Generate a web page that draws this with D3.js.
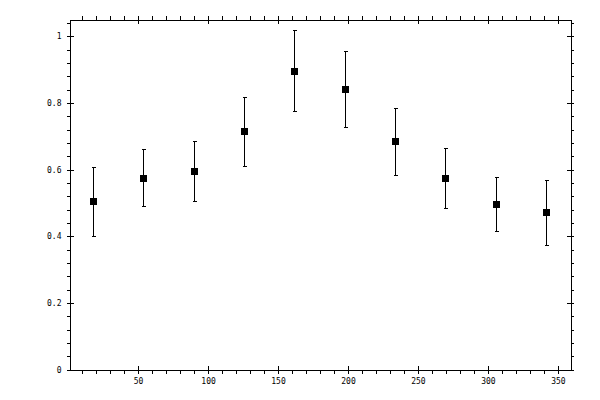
<!DOCTYPE html>
<html>
<head>
<meta charset="utf-8">
<script src="https://cdn.jsdelivr.net/npm/d3@7"></script>
<style>
  body { margin: 0; background: #fff; }
  svg { display: block; }
  text { font-family: "DejaVu Sans Mono", monospace; font-size: 8px; fill: #000; }
</style>
</head>
<body>
<div class="graph"></div>
<script>
// values
const xVals = [18, 54, 90, 126, 162, 198, 234, 270, 306, 342];
const yVals = [0.503, 0.573, 0.594, 0.714, 0.894, 0.840, 0.684, 0.573, 0.495, 0.471];
const yLow  = [0.398, 0.489, 0.504, 0.610, 0.774, 0.726, 0.582, 0.483, 0.414, 0.371];
const yHigh = [0.606, 0.660, 0.684, 0.816, 1.017, 0.954, 0.783, 0.663, 0.576, 0.567];
const xTicks = [50, 100, 150, 200, 250, 300, 350];
const yTicks = [0, 0.2, 0.4, 0.6, 0.8, 1];

const width = 600, height = 400;
const mLeft = 69, mRight = 570, mTop = 19, mBottom = 369;

const svg = d3.select(".graph").append("svg")
    .attr("width", width).attr("height", height);

const x = d3.scaleLinear().domain([1, 359]).range([mLeft, mRight]);
const y = d3.scaleLinear().domain([0, 1.05]).range([mBottom, mTop]);

const xMinor = d3.range(10, 359, 10).filter(v => v % 50 != 0);
const yMinor = d3.range(0.04, 1.05, 0.04).filter(v => Math.abs(v / 0.2 - Math.round(v / 0.2)) > 0.01);

const g = svg.append("g").attr("transform", "translate(0.5,0.5)")
    .attr("shape-rendering", "crispEdges");

// minor ticks, outside only
g.append("g").attr("transform", "translate(0," + mBottom + ")")
    .call(d3.axisBottom(x).tickValues(xMinor).tickSize(4).tickSizeOuter(0).tickFormat(""));
g.append("g").attr("transform", "translate(0," + mTop + ")")
    .call(d3.axisTop(x).tickValues(xMinor).tickSize(4).tickSizeOuter(0).tickFormat(""));
g.append("g").attr("transform", "translate(" + mLeft + ",0)")
    .call(d3.axisLeft(y).tickValues(yMinor).tickSize(3).tickSizeOuter(0).tickFormat(""));
g.append("g").attr("transform", "translate(" + mRight + ",0)")
    .call(d3.axisRight(y).tickValues(yMinor).tickSize(3).tickSizeOuter(0).tickFormat(""));

// major ticks, crossing the frame
const xb = g.append("g").attr("transform", "translate(0," + mBottom + ")")
    .call(d3.axisBottom(x).tickValues(xTicks).tickSizeOuter(0).tickFormat(d3.format("d")));
xb.selectAll(".tick line").attr("y1", -4).attr("y2", 4);
xb.selectAll(".tick text").attr("y", 9);

const xt = g.append("g").attr("transform", "translate(0," + mTop + ")")
    .call(d3.axisTop(x).tickValues(xTicks).tickSizeOuter(0).tickFormat(""));
xt.selectAll(".tick line").attr("y1", -4).attr("y2", 4);

const yl = g.append("g").attr("transform", "translate(" + mLeft + ",0)")
    .call(d3.axisLeft(y).tickValues(yTicks).tickSizeOuter(0).tickFormat(d => d3.format("")(d)));
yl.selectAll(".tick line").attr("x1", -3).attr("x2", 4);
yl.selectAll(".tick text").attr("x", -8);

const yr = g.append("g").attr("transform", "translate(" + mRight + ",0)")
    .call(d3.axisRight(y).tickValues(yTicks).tickSizeOuter(0).tickFormat(""));
yr.selectAll(".tick line").attr("x1", -4).attr("x2", 3);

svg.selectAll(".domain, .tick line").attr("stroke", "#000").attr("stroke-width", 1);
svg.selectAll("g").attr("font-family", null).attr("font-size", null);

// error bars
const data = xVals.map((v, i) => ({x: v, y: yVals[i], lo: yLow[i], hi: yHigh[i]}));
const eb = g.append("g").attr("stroke", "#000").attr("stroke-width", 1);
eb.selectAll("line.bar").data(data).join("line").attr("class", "bar")
    .attr("x1", d => Math.round(x(d.x))).attr("x2", d => Math.round(x(d.x)))
    .attr("y1", d => Math.round(y(d.lo))).attr("y2", d => Math.round(y(d.hi)));
eb.selectAll("line.capHi").data(data).join("line").attr("class", "capHi")
    .attr("x1", d => Math.round(x(d.x)) - 2).attr("x2", d => Math.round(x(d.x)) + 2)
    .attr("y1", d => Math.round(y(d.hi))).attr("y2", d => Math.round(y(d.hi)));
eb.selectAll("line.capLo").data(data).join("line").attr("class", "capLo")
    .attr("x1", d => Math.round(x(d.x)) - 2).attr("x2", d => Math.round(x(d.x)) + 2)
    .attr("y1", d => Math.round(y(d.lo))).attr("y2", d => Math.round(y(d.lo)));

// square markers
svg.append("g").attr("shape-rendering", "crispEdges")
    .selectAll("rect").data(data).join("rect")
    .attr("x", d => Math.round(x(d.x)) - 3)
    .attr("y", d => Math.round(y(d.y)) - 3)
    .attr("width", 7).attr("height", 7)
    .attr("fill", "#000");
</script>
</body>
</html>
